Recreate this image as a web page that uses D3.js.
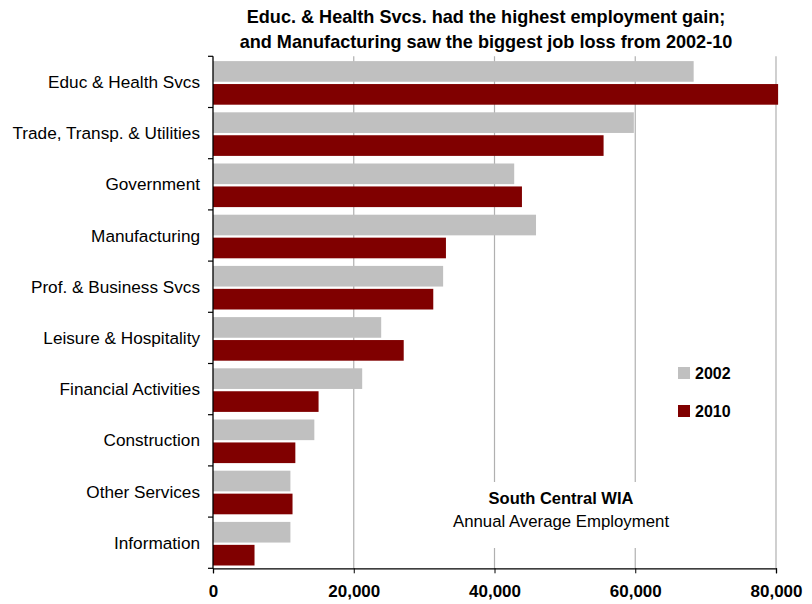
<!DOCTYPE html>
<html><head><meta charset="utf-8">
<script src="https://cdn.jsdelivr.net/npm/d3@7"></script>
<style>body{margin:0;background:#fff}svg{display:block}text{font-family:"Liberation Sans",Arial,sans-serif}</style>
</head><body>
<svg id="c" width="812" height="604"></svg>
<script>
const categories = ["Educ & Health Svcs","Trade, Transp. & Utilities","Government","Manufacturing","Prof. & Business Svcs","Leisure & Hospitality","Financial Activities","Construction","Other Services","Information"];
const series2002 = [68300,59800,42800,45900,32700,23900,21200,14400,11000,11000];
const series2010 = [80300,55500,43900,33100,31300,27100,15000,11700,11300,5900];
const seriesNames = ["2002","2010"];
const xTicks = [0,20000,40000,60000,80000];
const titleLines = ["Educ. & Health Svcs. had the highest employment gain;","and Manufacturing saw the biggest job loss from 2002-10"];
const noteLines = ["South Central WIA","Annual Average Employment"];

const colors = ["#c0c0c0","#800000"];
const svg = d3.select("#c");
const L=213, R=776, T=56.3, B=568.3;
const x = d3.scaleLinear().domain([0,80000]).range([L,R]);
const y = d3.scaleBand().domain(categories).range([T,B]).paddingInner(0).paddingOuter(0);
const y2 = d3.scaleBand().domain(seriesNames).range([4.8, y.bandwidth()-2.8]).paddingInner(0.1);

// gridlines
svg.append("g").selectAll("line").data(xTicks.slice(1)).join("line")
  .attr("x1",d=>x(d)).attr("x2",d=>x(d)).attr("y1",T).attr("y2",B)
  .attr("stroke","#b0b0b0").attr("stroke-width",1.2);

// bars
const data = categories.map((c,i)=>({c, v:[series2002[i],series2010[i]]}));
const g = svg.append("g");
data.forEach(d=>{
  seriesNames.forEach((s,j)=>{
    g.append("rect").attr("x",x(0)).attr("y",y(d.c)+y2(s))
      .attr("width",x(d.v[j])-x(0)).attr("height",y2.bandwidth()).attr("fill",colors[j]);
  });
});

// annotation box
svg.append("rect").attr("x",440).attr("y",482).attr("width",242).attr("height",66).attr("fill","#fff");
svg.append("text").attr("x",561).attr("y",504).attr("text-anchor","middle").attr("font-size",16.5).attr("font-weight","bold").text(noteLines[0]);
svg.append("text").attr("x",561).attr("y",527).attr("text-anchor","middle").attr("font-size",16.8).text(noteLines[1]);

// y axis
const yAxisG = svg.append("g");
yAxisG.append("line").attr("x1",L).attr("x2",L).attr("y1",T).attr("y2",B).attr("stroke","#000").attr("stroke-width",1.3);
const bounds = categories.map(c=>y(c)).concat([B]);
yAxisG.selectAll("line.t").data(bounds).join("line").attr("class","t")
  .attr("x1",L-5).attr("x2",L).attr("y1",d=>d).attr("y2",d=>d).attr("stroke","#000").attr("stroke-width",1.2);
yAxisG.selectAll("text").data(categories).join("text")
  .attr("x",200).attr("y",d=>y(d)+y.bandwidth()/2).attr("dy","0.36em")
  .attr("text-anchor","end").attr("font-size",17.2).attr("fill","#000").text(d=>d);

// x axis
const xAxis = d3.axisBottom(x).tickValues(xTicks).tickSize(5).tickPadding(12).tickFormat(d3.format(","));
const xg = svg.append("g").attr("transform",`translate(0,${B})`).call(xAxis);
xg.select(".domain").attr("stroke","#000").attr("stroke-width",1.3);
xg.selectAll(".tick line").attr("stroke","#000");
xg.selectAll(".tick text").attr("font-size",17).attr("font-weight","bold").attr("fill","#000")
  .style("font-family",'"Liberation Sans",Arial,sans-serif');

// title
svg.selectAll("text.title").data(titleLines).join("text").attr("class","title")
  .attr("x",486).attr("y",(d,i)=>22.5+i*25).attr("text-anchor","middle")
  .attr("font-size",18.1).attr("font-weight","bold").text(d=>d);

// legend
const lg = svg.append("g");
seriesNames.forEach((s,i)=>{
  lg.append("rect").attr("x",678).attr("y",367+i*38).attr("width",12).attr("height",12).attr("fill",colors[i]);
  lg.append("text").attr("x",695).attr("y",373+i*38).attr("dy","0.36em").attr("font-size",16).attr("font-weight","bold").text(s);
});
</script>
</body></html>
